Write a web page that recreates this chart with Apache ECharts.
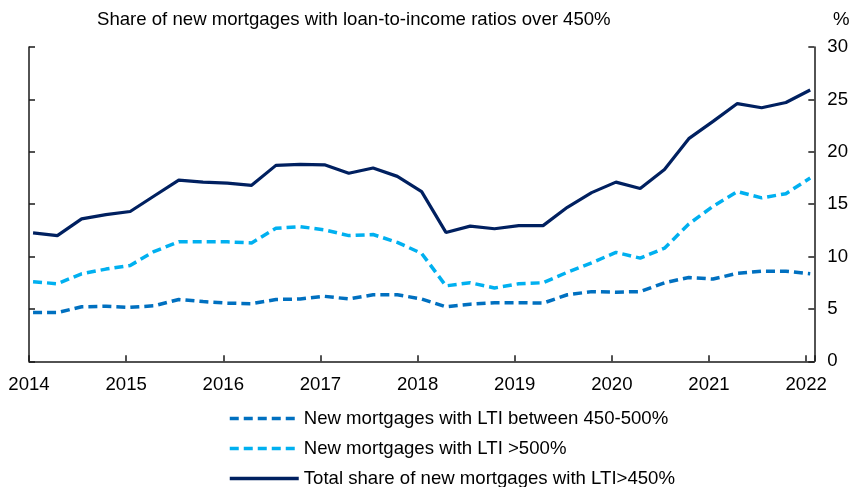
<!DOCTYPE html>
<html><head><meta charset="utf-8">
<script src="https://cdn.jsdelivr.net/npm/echarts@6/dist/echarts.min.js"></script>
<style>html,body{margin:0;padding:0;background:#fff}#c{width:851px;height:487px}</style>
</head><body><div id="c"></div>
<script>
// Quarterly observations (first month of each quarter)
const periods = ['2014-01','2014-04','2014-07','2014-10','2015-01','2015-04','2015-07','2015-10',
  '2016-01','2016-04','2016-07','2016-10','2017-01','2017-04','2017-07','2017-10',
  '2018-01','2018-04','2018-07','2018-10','2019-01','2019-04','2019-07','2019-10',
  '2020-01','2020-04','2020-07','2020-10','2021-01','2021-04','2021-07','2021-10','2022-01'];
const lti450to500 = [4.65,4.65,5.2,5.25,5.15,5.3,5.9,5.7,5.55,5.5,5.9,5.95,6.2,5.95,6.35,6.35,5.95,
  5.2,5.45,5.6,5.6,5.55,6.35,6.65,6.6,6.65,7.5,8.0,7.85,8.4,8.6,8.6,8.35];
const ltiOver500 = [7.6,7.4,8.35,8.8,9.15,10.5,11.4,11.4,11.4,11.3,12.7,12.85,12.55,12.0,12.1,11.35,10.3,
  7.2,7.5,7.0,7.4,7.5,8.5,9.4,10.4,9.85,10.8,13.1,14.8,16.2,15.6,16.0,17.5];
const ltiTotal = [12.25,12.0,13.6,14.0,14.3,15.8,17.3,17.1,17.0,16.8,18.7,18.8,18.75,17.95,18.45,17.65,16.2,
  12.3,12.9,12.65,12.95,12.95,14.7,16.1,17.1,16.5,18.3,21.25,22.9,24.6,24.2,24.7,25.9];
const seriesNames = ['New mortgages with LTI between 450-500%','New mortgages with LTI >500%','Total share of new mortgages with LTI>450%'];
const yTicks = [0,5,10,15,20,25,30];
const xYears = [2014,2015,2016,2017,2018,2019,2020,2021,2022];
const titleText = 'Share of new mortgages with loan-to-income ratios over 450%';
const unitText = '%';

function toYear(p){const [y,m]=p.split('-').map(Number);return y+(m-0.5)/12;}
function pairs(vals){return periods.map((p,i)=>[toYear(p),vals[i]]);}

const FONT = '"Liberation Sans", Arial, sans-serif';
const FS = 18.6;
const axisCol = '#1a1a1a';
const chart = echarts.init(document.getElementById('c'), null, {renderer:'canvas'});
const colors = ['#0070C0','#00B0F0','#002060'];
const valsList = [lti450to500, ltiOver500, ltiTotal];
chart.setOption({
  animation:false,
  backgroundColor:'#fff',
  textStyle:{fontFamily:FONT},
  graphic:[
    {type:'text',left:97,top:10,style:{text:titleText,font:FS+'px '+FONT,fill:'#000'}},
    {type:'text',left:833,top:10,style:{text:unitText,font:FS+'px '+FONT,fill:'#000'}}
  ],
  grid:{left:29,right:29.5,top:47,bottom:125.7,containLabel:false},
  legend:{
    orient:'vertical',left:228,top:409,height:120,padding:0,itemWidth:69,itemHeight:14,itemGap:11,
    data:seriesNames,
    itemStyle:{opacity:0},
    lineStyle:{width:3.5},
    textStyle:{fontSize:FS,fontFamily:FONT,color:'#000'}
  },
  xAxis:{
    type:'value',min:xYears[0],max:2022.084,interval:1,
    axisLine:{show:true,lineStyle:{color:axisCol,width:1.5}},
    axisTick:{show:true,inside:true,length:6,lineStyle:{color:axisCol,width:1.5}},
    axisLabel:{margin:14,fontSize:FS,color:'#000',fontFamily:FONT,
      formatter:v=>xYears.includes(Math.round(v*1000)/1000)?String(v):'' ,showMaxLabel:true},
    splitLine:{show:false}
  },
  yAxis:[
    {type:'value',position:'right',min:yTicks[0],max:yTicks[yTicks.length-1],interval:5,
      axisLine:{show:true,lineStyle:{color:axisCol,width:1.5}},
      axisTick:{show:true,inside:true,length:6,lineStyle:{color:axisCol,width:1.5}},
      axisLabel:{margin:13,fontSize:FS,color:'#000',fontFamily:FONT},
      splitLine:{show:false}},
    {type:'value',position:'left',min:yTicks[0],max:yTicks[yTicks.length-1],interval:5,
      axisLine:{show:true,onZero:false,lineStyle:{color:axisCol,width:1.5}},
      axisTick:{show:true,inside:true,length:6,lineStyle:{color:axisCol,width:1.5}},
      axisLabel:{show:false},splitLine:{show:false}}
  ],
  series:seriesNames.map((n,i)=>({
    name:n,type:'line',yAxisIndex:0,data:pairs(valsList[i]),showSymbol:false,symbol:'none',
    color:colors[i],
    lineStyle:{color:colors[i],width:i===2?3.2:3.5,type:i===2?'solid':[9,5]},
    z:i===2?3:2
  }))
});
</script></body></html>
